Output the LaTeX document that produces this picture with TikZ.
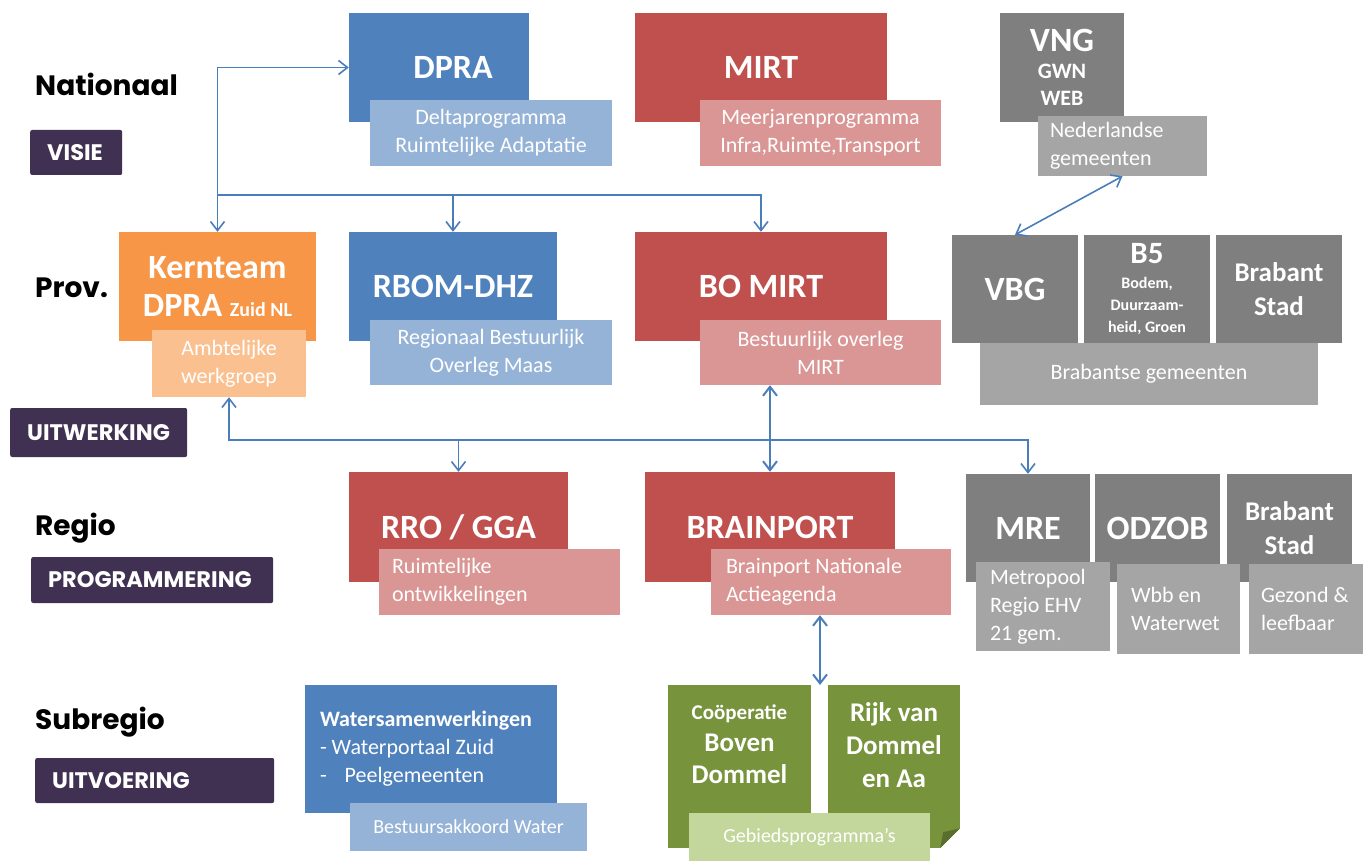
\documentclass[tikz,border=0pt]{standalone}
\usepackage{fontspec}
\setmainfont{Carlito}
\newfontfamily\lblfont{Poppins}
\usepackage{tikz}
\usetikzlibrary{arrows.meta, positioning, calc}

\definecolor{dblue}{HTML}{4F81BD}
\definecolor{lblue}{HTML}{95B3D7}
\definecolor{dred}{HTML}{C0504D}
\definecolor{lred}{HTML}{D99694}
\definecolor{dorange}{HTML}{F79646}
\definecolor{lorange}{HTML}{FAC090}
\definecolor{dgray}{HTML}{7F7F7F}
\definecolor{lgray}{HTML}{A5A5A5}
\definecolor{dgreen}{HTML}{77933C}
\definecolor{lgreen}{HTML}{C3D69B}
\definecolor{purp}{HTML}{403152}
\definecolor{arrowblue}{HTML}{4A7EBB}

\begin{document}
\begin{tikzpicture}[x=1pt, y=-1pt, >={Straight Barb[length=9pt,width=14pt]},
  box/.style={rectangle, inner sep=0pt, text=white, align=center, font=\bfseries\fontsize{34}{38}\selectfont},
  subbox/.style={rectangle, inner sep=0pt, text=white, align=center, font=\fontsize{22}{28}\selectfont},
  lvl/.style={anchor=west, inner sep=0pt, font=\lblfont\bfseries\fontsize{28}{32}\selectfont},
  tag/.style={anchor=west, fill=purp, rounded corners=2pt, text=white, inner xsep=17pt, inner ysep=0pt, align=flush left, font=\lblfont\bfseries\fontsize{22.5}{26}\selectfont},
  link/.style={draw=arrowblue, line width=1.6pt}]

\fill[white] (0,0) rectangle (1363,861);
\useasboundingbox (0,0) rectangle (1363,861);

% levels
\node[lvl] (nat) at (35,84) {Nationaal};
\node[lvl] (prov) at (35,288) {Prov.};
\node[lvl] (reg) at (35,528) {Regio};
\node[lvl] (sub) at (35,722) {Subregio};
\node[tag, text width=58pt, minimum height=45pt] (visie) at (30,152.5) {VISIE};
\node[tag, text width=143pt, minimum height=49pt] (uitw) at (10,432.5) {UITWERKING};
\node[tag, text width=208pt, minimum height=46pt] (progr) at (31,580) {PROGRAMMERING};
\node[tag, text width=205pt, minimum height=45pt] (uitv) at (35,780.5) {UITVOERING};

% nationaal
\node[box, fill=dblue, minimum width=180pt, minimum height=109pt] (dpra) at (439,67.5) {\hspace{28pt}DPRA};
\node[subbox, fill=lblue, minimum width=242pt, minimum height=66pt] (dprasub) at (491,133) {Deltaprogramma\\Ruimtelijke Adaptatie};
\node[box, fill=dred, minimum width=252pt, minimum height=109pt] (mirt) at (761,67.5) {MIRT};
\node[subbox, fill=lred, minimum width=241pt, minimum height=66pt] (mirtsub) at (820.5,133) {Meerjarenprogramma\\Infra,Ruimte,Transport};
\node[box, fill=dgray, minimum width=124pt, minimum height=109pt, font=\bfseries\fontsize{22}{27}\selectfont] (vng) at (1062,67.5) {{\fontsize{34}{34}\selectfont VNG}\\GWN\\WEB};
\node[subbox, fill=lgray, text width=145pt, inner xsep=12pt, align=flush left, minimum height=60pt] (vngsub) at (1122.5,146) {Nederlandse\\gemeenten};

% provinciaal
\node[box, fill=dorange, minimum width=197pt, minimum height=109pt] (kern) at (217.5,286.5) {Kernteam\\DPRA {\fontsize{20}{24}\selectfont Zuid NL}};
\node[subbox, fill=lorange, minimum width=154pt, minimum height=67pt] (ambt) at (229,363.5) {Ambtelijke\\werkgroep};
\node[box, fill=dblue, minimum width=208pt, minimum height=109pt] (rbom) at (453,286.5) {RBOM-DHZ};
\node[subbox, fill=lblue, minimum width=242pt, minimum height=65pt] (rbomsub) at (491,352.5) {Regionaal Bestuurlijk\\Overleg Maas};
\node[box, fill=dred, minimum width=252pt, minimum height=109pt] (bomirt) at (761,286.5) {BO MIRT};
\node[subbox, fill=lred, minimum width=241pt, minimum height=65pt] (bosub) at (820.5,352.5) {Bestuurlijk overleg\\MIRT};
\node[box, fill=dgray, minimum width=126pt, minimum height=108pt] (vbg) at (1015,289) {VBG};
\node[box, fill=dgray, minimum width=126pt, minimum height=108pt, font=\bfseries\fontsize{16}{22}\selectfont] (bvijf) at (1147,289) {{\fontsize{31}{31}\selectfont B5}\\[3pt]Bodem,\\Duurzaam-\\heid, Groen};
\node[box, fill=dgray, minimum width=126pt, minimum height=108pt, font=\bfseries\fontsize{27}{34}\selectfont] (bstadp) at (1279,289) {Brabant\\Stad};
\node[subbox, fill=lgray, minimum width=338pt, minimum height=62pt] (bgem) at (1149,374) {Brabantse gemeenten};

% regio
\node[box, fill=dred, minimum width=219pt, minimum height=110pt] (rro) at (458.5,527) {RRO / GGA};
\node[subbox, fill=lred, text width=215pt, inner xsep=13pt, align=flush left, minimum height=66pt] (rrosub) at (499.5,582) {Ruimtelijke\\ontwikkelingen};
\node[box, fill=dred, minimum width=250pt, minimum height=110pt] (brain) at (770,527) {BRAINPORT};
\node[subbox, fill=lred, text width=210pt, inner xsep=15pt, align=flush left, minimum height=66pt] (brainsub) at (831,582) {Brainport Nationale\\Actieagenda};
\node[box, fill=dgray, minimum width=124pt, minimum height=108pt] (mre) at (1028,528) {MRE};
\node[box, fill=dgray, minimum width=125pt, minimum height=108pt] (odzob) at (1157.5,528) {ODZOB};
\node[box, fill=dgray, minimum width=125pt, minimum height=108pt, font=\bfseries\fontsize{27}{34}\selectfont] (bstadr) at (1289.5,528) {Brabant\\Stad};
\node[subbox, fill=lgray, text width=106pt, inner xsep=14pt, align=flush left, minimum height=89pt] (mresub) at (1043,606.5) {Metropool\\Regio EHV\\21 gem.};
\node[subbox, fill=lgray, text width=95pt, inner xsep=14pt, align=flush left, minimum height=90pt] (odzsub) at (1178.5,609) {Wbb en\\Waterwet};
\node[subbox, fill=lgray, text width=90pt, inner xsep=12pt, align=flush left, minimum height=90pt] (gezsub) at (1306,609) {Gezond \&\\leefbaar};

% subregio
\node[subbox, fill=dblue, text width=222pt, inner xsep=15pt, align=flush left, minimum height=128pt] (water) at (431,749) {\textbf{Watersamenwerkingen}\\- Waterportaal Zuid\\-\hspace{18pt}Peelgemeenten};
\node[subbox, fill=lblue, minimum width=237pt, minimum height=48pt, font=\fontsize{20}{24}\selectfont] (bakw) at (468.5,827) {Bestuursakkoord Water};
\node[box, fill=dgreen, minimum width=143pt, minimum height=163pt, font=\bfseries\fontsize{27}{32}\selectfont] (coop) at (739.5,766.5) {{\fontsize{21}{21}\selectfont Coöperatie}\\Boven\\Dommel\\[12pt]};
\node[box, fill=dgreen, minimum width=132pt, minimum height=163pt, font=\bfseries\fontsize{27}{33}\selectfont] (rijk) at (894,766.5) {Rijk van\\Dommel\\en Aa\\[10pt]};
\fill[white] (rijk.south east) -- ++(0,-20) -- ++(-20,20) -- cycle;
\fill[dgreen!75!black] (rijk.south east) ++(0,-20) -- ++(-20,20) -- ++(3,-16) -- cycle;
\node[subbox, fill=lgreen, minimum width=241pt, minimum height=48pt, font=\fontsize{20}{24}\selectfont] (gebied) at (809.5,837) {Gebiedsprogramma's};

% verbindingen
\coordinate (jtop) at (0,195);
\coordinate (jlow) at (0,440);
\coordinate (gap) at (820,685);
\draw[link, <->] (dpra.west) -| (kern.north);
\draw[link, ->] (kern.north |- jtop) -| (bomirt.north);
\draw[link, ->] (rbom.north |- jtop) -- (rbom.north);
\draw[link, <->] (vngsub.south) -- (vbg.north);
\draw[link, <->] (ambt.south) |- (mre.north |- jlow) -- (mre.north);
\draw[link, ->] (rro.north |- jlow) -- (rro.north);
\draw[link, <->, line width=2pt] (bosub.south -| brain.north) -- (brain.north);
\draw[link, <->, line width=2pt] (brainsub.south -| gap) -- (gap);
\end{tikzpicture}
\end{document}
